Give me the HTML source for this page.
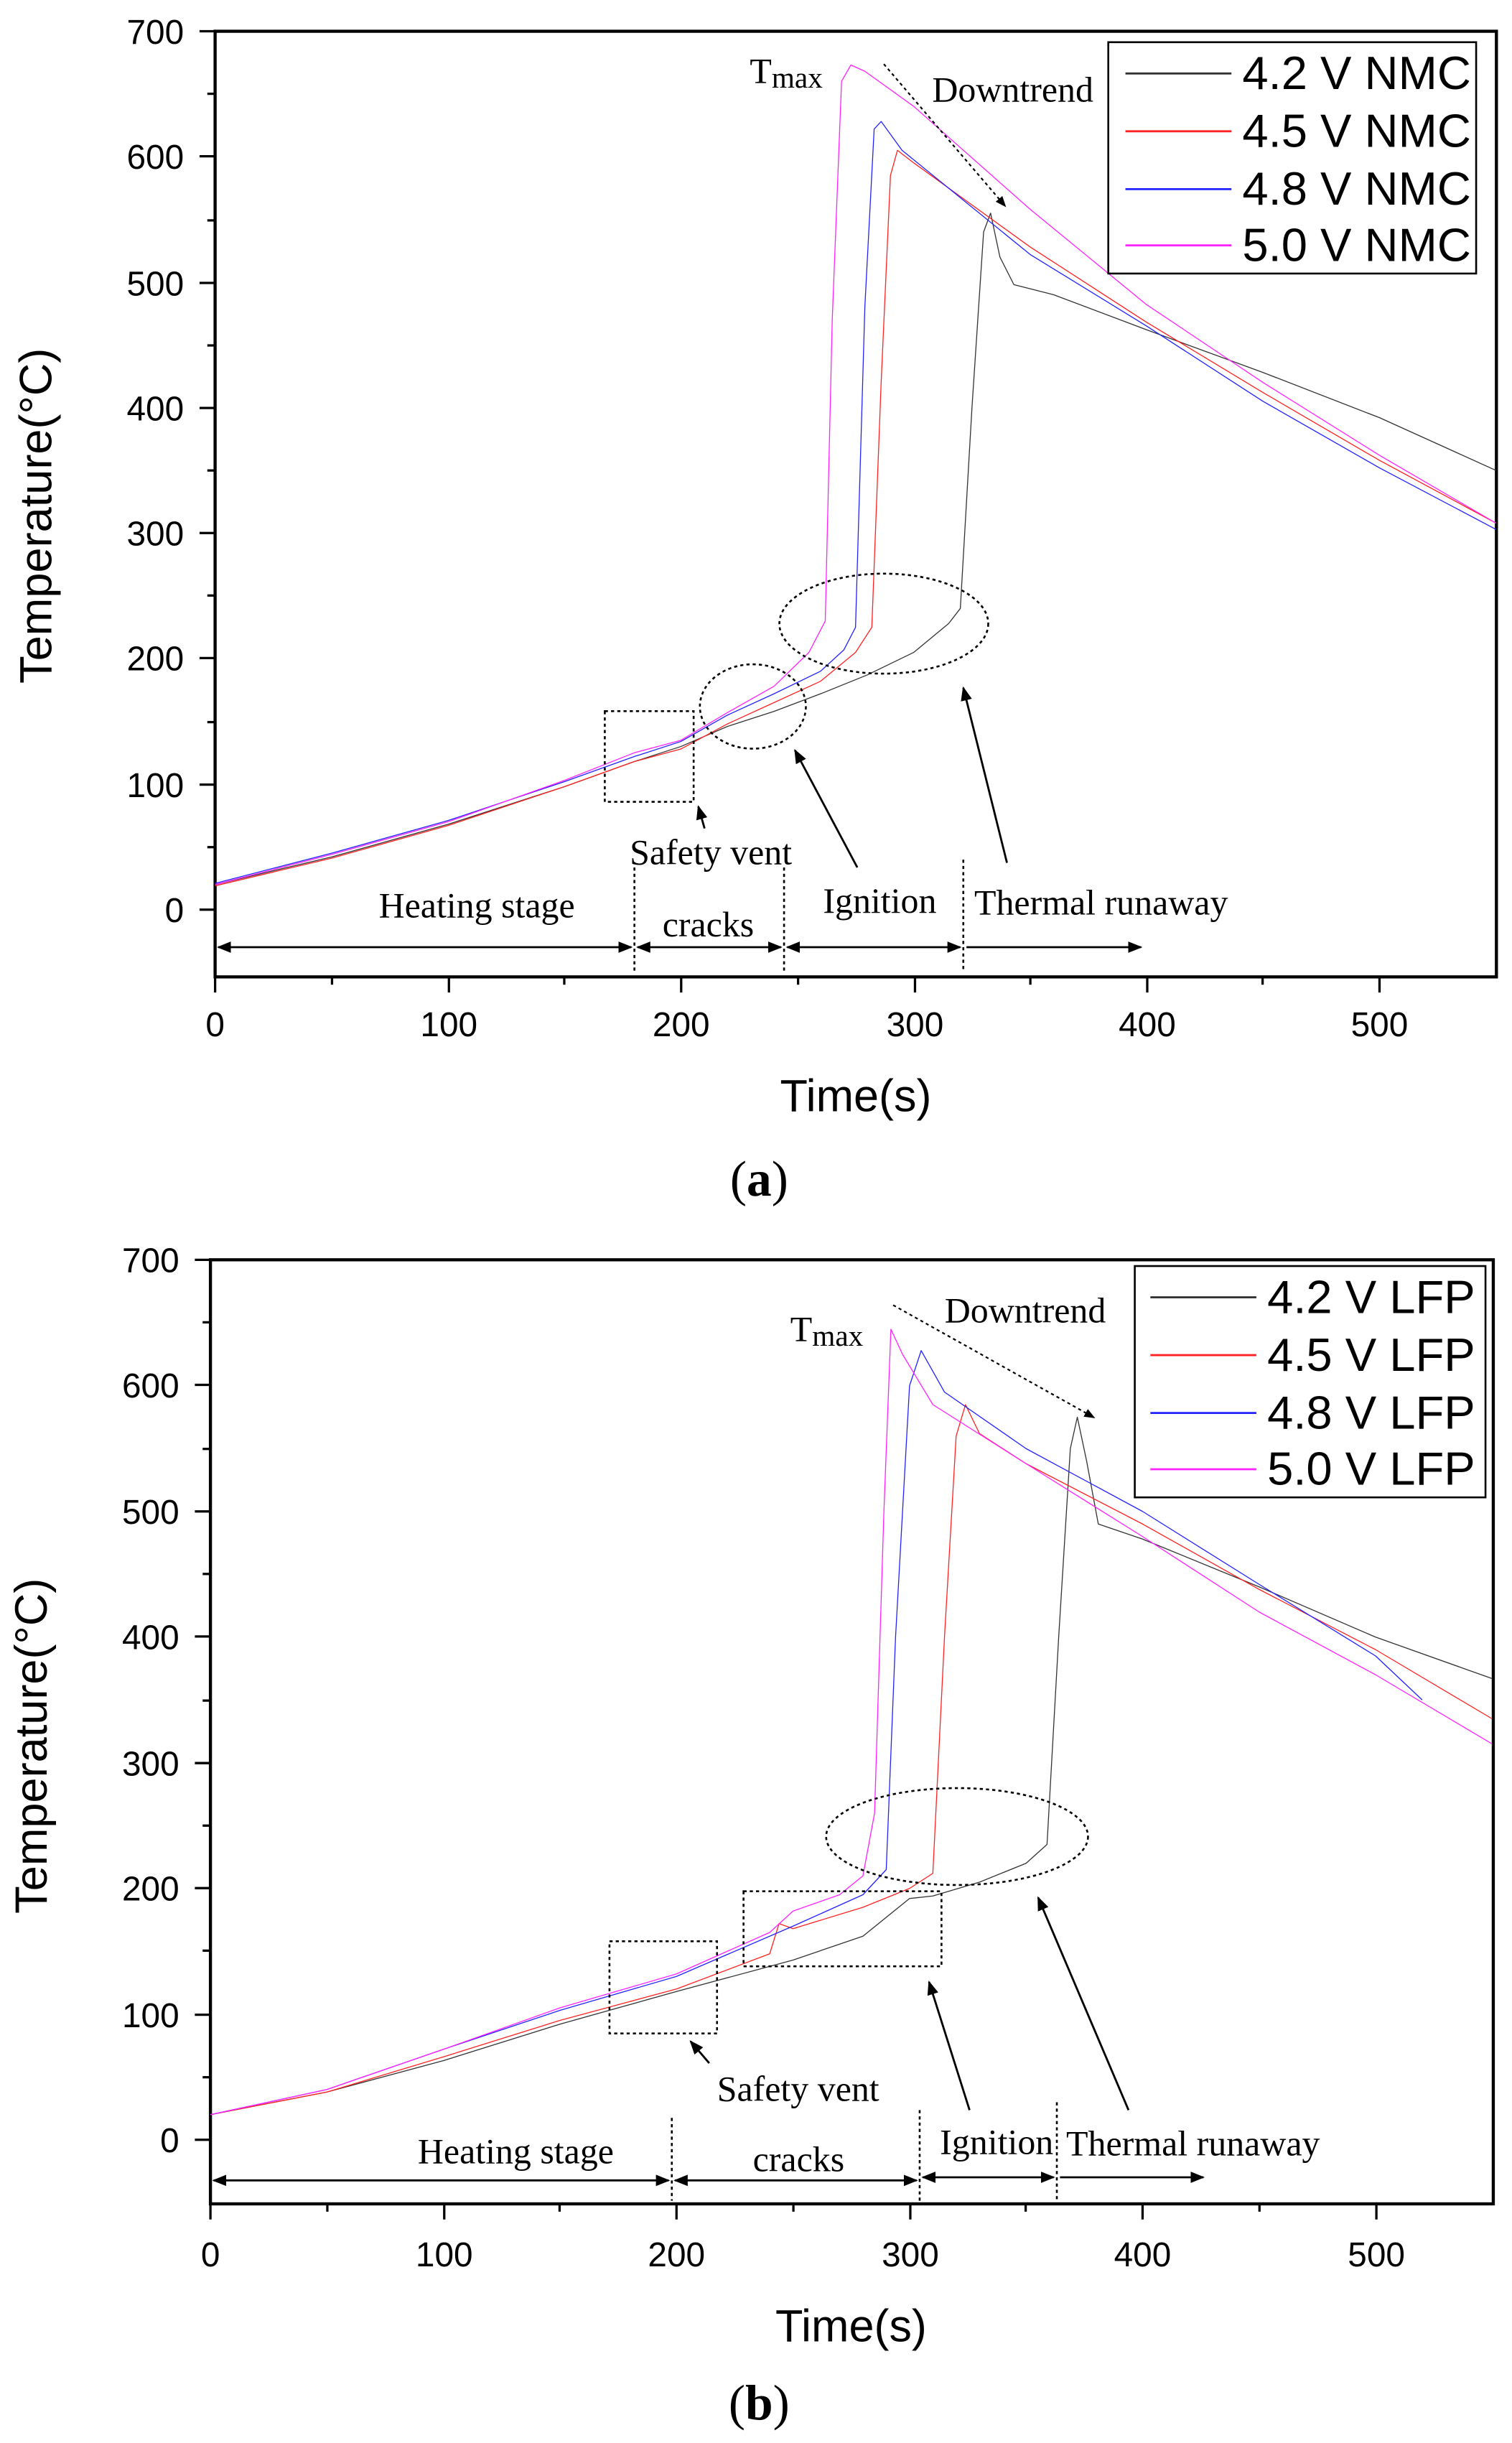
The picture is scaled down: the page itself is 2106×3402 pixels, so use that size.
<!DOCTYPE html>
<html><head><meta charset="utf-8"><style>
html,body{margin:0;padding:0;background:#fff}
svg{display:block}
.ax{font-family:"Liberation Sans",sans-serif;font-size:22px;fill:#000}
.lab{font-family:"Liberation Sans",sans-serif;font-size:29px;fill:#000}
.leg{font-family:"Liberation Sans",sans-serif;font-size:30px;fill:#000}
.an{font-family:"Liberation Serif",serif;font-size:23px;fill:#000}
.s{fill:none;stroke-width:1.3;vector-effect:non-scaling-stroke;stroke-linejoin:round}
</style></head><body>
<svg width="2106" height="3402" viewBox="0 0 970 1563" preserveAspectRatio="none" xmlns="http://www.w3.org/2000/svg">
<defs>
<marker id="ar" viewBox="0 0 10 10" refX="9" refY="5" markerWidth="7" markerHeight="7" orient="auto-start-reverse"><path d="M0,1 L10,5 L0,9 z" fill="#000"/></marker>
</defs>

<!-- ===== (a) ===== -->
<rect x="138" y="20" width="822" height="605" fill="none" stroke="#000" stroke-width="2"/>
<g stroke="#000" stroke-width="1.5">
<line x1="138" y1="20" x2="128" y2="20"/><line x1="138" y1="100" x2="128" y2="100"/><line x1="138" y1="181" x2="128" y2="181"/><line x1="138" y1="261" x2="128" y2="261"/><line x1="138" y1="341" x2="128" y2="341"/><line x1="138" y1="421" x2="128" y2="421"/><line x1="138" y1="502" x2="128" y2="502"/><line x1="138" y1="582" x2="128" y2="582"/>
<line x1="138" y1="60" x2="133" y2="60"/><line x1="138" y1="141" x2="133" y2="141"/><line x1="138" y1="221" x2="133" y2="221"/><line x1="138" y1="301" x2="133" y2="301"/><line x1="138" y1="381" x2="133" y2="381"/><line x1="138" y1="462" x2="133" y2="462"/><line x1="138" y1="542" x2="133" y2="542"/>
<line x1="138" y1="625" x2="138" y2="635"/><line x1="288" y1="625" x2="288" y2="635"/><line x1="437" y1="625" x2="437" y2="635"/><line x1="587" y1="625" x2="587" y2="635"/><line x1="736" y1="625" x2="736" y2="635"/><line x1="885" y1="625" x2="885" y2="635"/>
<line x1="213" y1="625" x2="213" y2="630"/><line x1="362" y1="625" x2="362" y2="630"/><line x1="512" y1="625" x2="512" y2="630"/><line x1="661" y1="625" x2="661" y2="630"/><line x1="810" y1="625" x2="810" y2="630"/>
</g>
<g class="ax" text-anchor="end">
<text x="118" y="28">700</text><text x="118" y="108">600</text><text x="118" y="189">500</text><text x="118" y="269">400</text><text x="118" y="349">300</text><text x="118" y="429">200</text><text x="118" y="510">100</text><text x="118" y="590">0</text>
</g>
<g class="ax" text-anchor="middle">
<text x="138" y="663">0</text><text x="288" y="663">100</text><text x="437" y="663">200</text><text x="587" y="663">300</text><text x="736" y="663">400</text><text x="885" y="663">500</text>
</g>
<text class="lab" x="549" y="711" text-anchor="middle">Time(s)</text>
<text class="lab" transform="translate(33,330) rotate(-90)" text-anchor="middle">Temperature(°C)</text>
<text x="487" y="765" text-anchor="middle" font-family="Liberation Serif,serif" font-size="32">(<tspan font-weight="bold">a</tspan>)</text>

<g transform="translate(138,582) scale(1.494,-0.803)">
<polyline class="s" stroke="#333" points="0,20 50,42 100,68 150,98 180,118 200,130 220,146 240,158 260,172 280,187 300,205 315,228 320,240 325,400 330,540 333,555 337,520 343,498 360,490 400,462 450,428 500,392 550,350"/>
<polyline class="s" stroke="#f22" points="0,19 50,41 100,67 150,98 180,118 200,128 220,148 240,165 260,182 275,205 282,225 286,420 290,585 293,605 300,595 350,528 400,468 450,412 500,358 550,308"/>
<polyline class="s" stroke="#22f" points="0,21 50,45 100,71 150,102 180,122 200,134 220,155 240,172 260,190 270,207 275,225 279,480 283,622 286,628 295,605 350,522 400,465 450,405 500,352 550,303"/>
<polyline class="s" stroke="#f2f" points="0,20 50,44 100,70 150,103 180,125 200,135 220,157 240,178 255,205 262,230 265,470 269,660 273,673 279,668 300,640 350,558 400,482 450,420 500,362 550,308"/>
</g>

<rect x="711" y="27" width="236" height="148" fill="#fff" stroke="#000" stroke-width="1.2"/>
<line x1="722" y1="47" x2="790" y2="47" stroke="#333" stroke-width="1.3"/><text class="leg" x="797" y="57">4.2 V NMC</text>
<line x1="722" y1="84" x2="790" y2="84" stroke="#f22" stroke-width="1.3"/><text class="leg" x="797" y="94">4.5 V NMC</text>
<line x1="722" y1="121" x2="790" y2="121" stroke="#22f" stroke-width="1.3"/><text class="leg" x="797" y="131">4.8 V NMC</text>
<line x1="722" y1="157" x2="790" y2="157" stroke="#f2f" stroke-width="1.3"/><text class="leg" x="797" y="167">5.0 V NMC</text>

<text class="an" x="481" y="53" font-size="28">T<tspan font-size="19" dy="3">max</tspan></text>
<text class="an" x="598" y="65">Downtrend</text>
<line x1="567" y1="41" x2="645" y2="132" stroke="#000" stroke-dasharray="2,2" marker-end="url(#ar)"/>
<g fill="none" stroke="#000" stroke-dasharray="2,2" stroke-width="1.2">
<rect x="388" y="455" width="57" height="58"/>
<ellipse cx="483" cy="452" rx="34" ry="27"/>
<ellipse cx="567" cy="399" rx="67" ry="32"/>
<line x1="407" y1="555" x2="407" y2="622"/><line x1="503" y1="555" x2="503" y2="622"/><line x1="618" y1="550" x2="618" y2="622"/>
</g>
<g stroke="#000" stroke-width="1.3">
<line x1="140" y1="606" x2="405" y2="606" marker-start="url(#ar)" marker-end="url(#ar)"/>
<line x1="409" y1="606" x2="501" y2="606" marker-start="url(#ar)" marker-end="url(#ar)"/>
<line x1="505" y1="606" x2="616" y2="606" marker-start="url(#ar)" marker-end="url(#ar)"/>
<line x1="620" y1="606" x2="732" y2="606" marker-end="url(#ar)"/>
<line x1="452" y1="530" x2="448" y2="516" marker-end="url(#ar)"/>
<line x1="550" y1="555" x2="510" y2="480" marker-end="url(#ar)"/>
<line x1="646" y1="552" x2="618" y2="440" marker-end="url(#ar)"/>
</g>
<text class="an" x="243" y="587">Heating stage</text>
<text class="an" x="404" y="553">Safety vent</text>
<text class="an" x="425" y="599">cracks</text>
<text class="an" x="528" y="584">Ignition</text>
<text class="an" x="625" y="585">Thermal runaway</text>

<!-- ===== (b) ===== -->
<rect x="135" y="806" width="823" height="604" fill="none" stroke="#000" stroke-width="2"/>
<g stroke="#000" stroke-width="1.5">
<line x1="135" y1="806" x2="125" y2="806"/><line x1="135" y1="886" x2="125" y2="886"/><line x1="135" y1="967" x2="125" y2="967"/><line x1="135" y1="1047" x2="125" y2="1047"/><line x1="135" y1="1128" x2="125" y2="1128"/><line x1="135" y1="1208" x2="125" y2="1208"/><line x1="135" y1="1289" x2="125" y2="1289"/><line x1="135" y1="1369" x2="125" y2="1369"/>
<line x1="135" y1="846" x2="130" y2="846"/><line x1="135" y1="927" x2="130" y2="927"/><line x1="135" y1="1007" x2="130" y2="1007"/><line x1="135" y1="1088" x2="130" y2="1088"/><line x1="135" y1="1168" x2="130" y2="1168"/><line x1="135" y1="1248" x2="130" y2="1248"/><line x1="135" y1="1329" x2="130" y2="1329"/>
<line x1="135" y1="1410" x2="135" y2="1420"/><line x1="285" y1="1410" x2="285" y2="1420"/><line x1="434" y1="1410" x2="434" y2="1420"/><line x1="584" y1="1410" x2="584" y2="1420"/><line x1="733" y1="1410" x2="733" y2="1420"/><line x1="883" y1="1410" x2="883" y2="1420"/>
<line x1="210" y1="1410" x2="210" y2="1415"/><line x1="359" y1="1410" x2="359" y2="1415"/><line x1="509" y1="1410" x2="509" y2="1415"/><line x1="658" y1="1410" x2="658" y2="1415"/><line x1="808" y1="1410" x2="808" y2="1415"/>
</g>
<g class="ax" text-anchor="end">
<text x="115" y="814">700</text><text x="115" y="894">600</text><text x="115" y="975">500</text><text x="115" y="1055">400</text><text x="115" y="1136">300</text><text x="115" y="1216">200</text><text x="115" y="1297">100</text><text x="115" y="1377">0</text>
</g>
<g class="ax" text-anchor="middle">
<text x="135" y="1450">0</text><text x="285" y="1450">100</text><text x="434" y="1450">200</text><text x="584" y="1450">300</text><text x="733" y="1450">400</text><text x="883" y="1450">500</text>
</g>
<text class="lab" x="546" y="1498" text-anchor="middle">Time(s)</text>
<text class="lab" transform="translate(30,1117) rotate(-90)" text-anchor="middle">Temperature(°C)</text>
<text x="487" y="1548" text-anchor="middle" font-family="Liberation Serif,serif" font-size="32">(<tspan font-weight="bold">b</tspan>)</text>

<g transform="translate(135,1369) scale(1.495,-0.804)">
<polyline class="s" stroke="#333" points="0,20 50,38 100,63 150,92 200,118 250,143 280,162 300,192 310,194 330,205 350,220 359,235 364,400 369,550 372,575 376,540 381,490 400,478 450,440 500,400 550,367"/>
<polyline class="s" stroke="#f22" points="0,20 50,38 100,66 150,95 200,120 240,148 244,172 250,168 280,185 300,200 310,212 315,400 320,560 324,585 330,562 350,538 400,490 450,438 500,390 550,335"/>
<polyline class="s" stroke="#22f" points="0,20 50,40 100,72 150,103 200,130 250,170 280,195 290,215 294,400 300,600 305,628 315,595 350,550 400,500 450,442 500,385 520,350"/>
<polyline class="s" stroke="#f2f" points="0,20 50,40 100,72 150,105 200,132 240,165 250,182 270,195 280,210 285,260 289,500 292,645 297,625 310,585 350,538 400,480 450,420 500,370 550,315"/>
</g>

<rect x="728" y="810" width="225" height="148" fill="#fff" stroke="#000" stroke-width="1.2"/>
<line x1="738" y1="830" x2="806" y2="830" stroke="#333" stroke-width="1.3"/><text class="leg" x="813" y="840">4.2 V LFP</text>
<line x1="738" y1="867" x2="806" y2="867" stroke="#f22" stroke-width="1.3"/><text class="leg" x="813" y="877">4.5 V LFP</text>
<line x1="738" y1="904" x2="806" y2="904" stroke="#22f" stroke-width="1.3"/><text class="leg" x="813" y="914">4.8 V LFP</text>
<line x1="738" y1="940" x2="806" y2="940" stroke="#f2f" stroke-width="1.3"/><text class="leg" x="813" y="950">5.0 V LFP</text>

<text class="an" x="507" y="858" font-size="28">T<tspan font-size="19" dy="3">max</tspan></text>
<text class="an" x="606" y="846">Downtrend</text>
<line x1="573" y1="835" x2="702" y2="907" stroke="#000" stroke-dasharray="2,2" marker-end="url(#ar)"/>
<g fill="none" stroke="#000" stroke-dasharray="2,2" stroke-width="1.2">
<rect x="391" y="1242" width="69" height="59"/>
<rect x="477" y="1210" width="127" height="48"/>
<ellipse cx="614" cy="1175" rx="84" ry="31"/>
<line x1="431" y1="1355" x2="431" y2="1408"/><line x1="590" y1="1350" x2="590" y2="1408"/><line x1="678" y1="1345" x2="678" y2="1408"/>
</g>
<g stroke="#000" stroke-width="1.3">
<line x1="137" y1="1395" x2="429" y2="1395" marker-start="url(#ar)" marker-end="url(#ar)"/>
<line x1="433" y1="1395" x2="588" y2="1395" marker-start="url(#ar)" marker-end="url(#ar)"/>
<line x1="592" y1="1393" x2="676" y2="1393" marker-start="url(#ar)" marker-end="url(#ar)"/>
<line x1="680" y1="1393" x2="772" y2="1393" marker-end="url(#ar)"/>
<line x1="455" y1="1320" x2="443" y2="1306" marker-end="url(#ar)"/>
<line x1="622" y1="1350" x2="596" y2="1268" marker-end="url(#ar)"/>
<line x1="724" y1="1350" x2="666" y2="1214" marker-end="url(#ar)"/>
</g>
<text class="an" x="268" y="1384">Heating stage</text>
<text class="an" x="460" y="1344">Safety vent</text>
<text class="an" x="483" y="1389">cracks</text>
<text class="an" x="603" y="1378">Ignition</text>
<text class="an" x="684" y="1379">Thermal runaway</text>
</svg>
</body></html>
